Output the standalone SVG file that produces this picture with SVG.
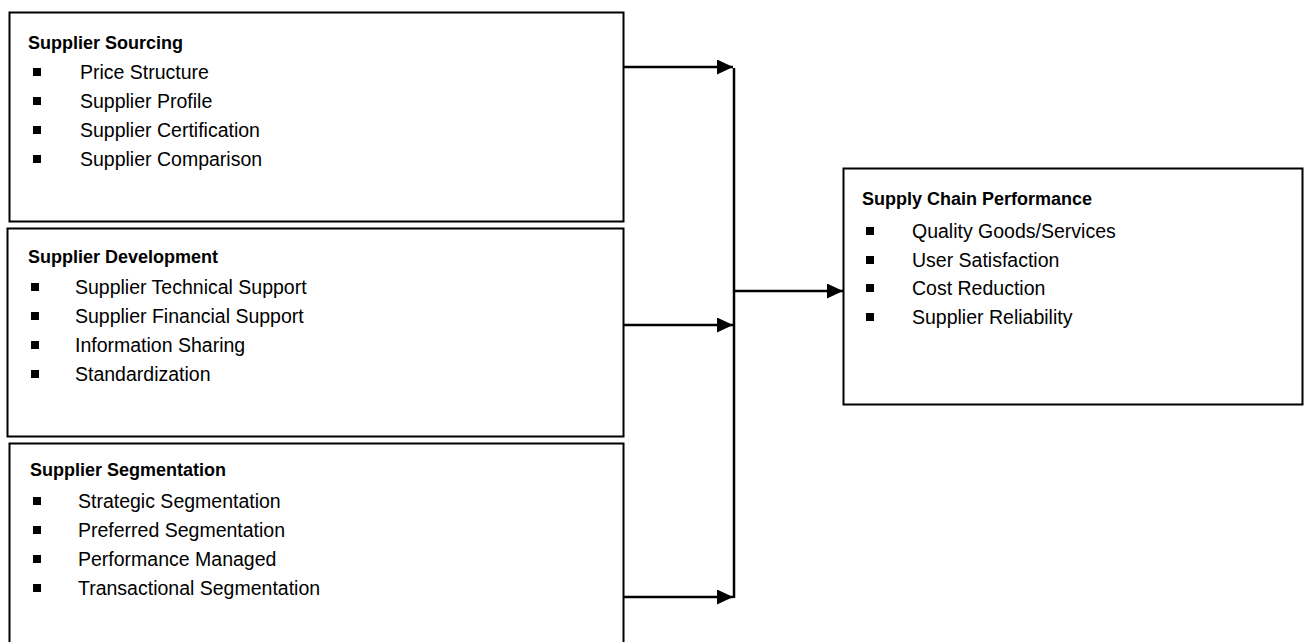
<svg xmlns="http://www.w3.org/2000/svg" width="1306" height="642" viewBox="0 0 1306 642">
<style>
.box{fill:#fff;stroke:#000;stroke-width:2}
.t{font-family:"Liberation Sans",Arial,sans-serif;font-weight:bold;font-size:18px;fill:#000}
.i{font-family:"Liberation Sans",Arial,sans-serif;font-size:19.5px;fill:#000}
.b{fill:#000}
.c{stroke:#000;stroke-width:2.5;fill:none}
</style>
<defs>
<marker id="ah" markerWidth="16" markerHeight="15" refX="16" refY="7.5" orient="auto" markerUnits="userSpaceOnUse">
<path d="M0,0 L16,7.5 L0,15 Z" fill="#000"/>
</marker>
</defs>
<g id="supplier-sourcing">
<rect class="box" x="9.5" y="12.5" width="614" height="209"/>
<text class="t" x="28" y="49">Supplier Sourcing</text>
<rect class="b" x="33" y="68" width="8" height="8"/><text class="i" x="80" y="79">Price Structure</text>
<rect class="b" x="33" y="97" width="8" height="8"/><text class="i" x="80" y="108">Supplier Profile</text>
<rect class="b" x="33" y="126" width="8" height="8"/><text class="i" x="80" y="137">Supplier Certification</text>
<rect class="b" x="33" y="155" width="8" height="8"/><text class="i" x="80" y="166">Supplier Comparison</text>
</g>
<g id="supplier-development">
<rect class="box" x="7.5" y="228.5" width="616" height="208"/>
<text class="t" x="28" y="263">Supplier Development</text>
<rect class="b" x="31" y="283" width="8" height="8"/><text class="i" x="75" y="294">Supplier Technical Support</text>
<rect class="b" x="31" y="312" width="8" height="8"/><text class="i" x="75" y="323">Supplier Financial Support</text>
<rect class="b" x="31" y="341" width="8" height="8"/><text class="i" x="75" y="352">Information Sharing</text>
<rect class="b" x="31" y="370" width="8" height="8"/><text class="i" x="75" y="381">Standardization</text>
</g>
<g id="supplier-segmentation">
<rect class="box" x="9.5" y="443.5" width="614" height="210"/>
<text class="t" x="30" y="476">Supplier Segmentation</text>
<rect class="b" x="33" y="497" width="8" height="8"/><text class="i" x="78" y="508">Strategic Segmentation</text>
<rect class="b" x="33" y="526" width="8" height="8"/><text class="i" x="78" y="537">Preferred Segmentation</text>
<rect class="b" x="33" y="555" width="8" height="8"/><text class="i" x="78" y="566">Performance Managed</text>
<rect class="b" x="33" y="584" width="8" height="8"/><text class="i" x="78" y="595">Transactional Segmentation</text>
</g>
<g id="supply-chain-performance">
<rect class="box" x="843.5" y="168.5" width="459" height="236"/>
<text class="t" x="862" y="205">Supply Chain Performance</text>
<rect class="b" x="866" y="227" width="8" height="8"/><text class="i" x="912" y="238">Quality Goods/Services</text>
<rect class="b" x="866" y="256" width="8" height="8"/><text class="i" x="912" y="267">User Satisfaction</text>
<rect class="b" x="866" y="284" width="8" height="8"/><text class="i" x="912" y="295">Cost Reduction</text>
<rect class="b" x="866" y="313" width="8" height="8"/><text class="i" x="912" y="324">Supplier Reliability</text>
</g>
<g id="connectors">
<line class="c" x1="624" y1="67" x2="733" y2="67" marker-end="url(#ah)"/>
<line class="c" x1="624" y1="325" x2="733" y2="325" marker-end="url(#ah)"/>
<line class="c" x1="624" y1="597" x2="733" y2="597" marker-end="url(#ah)"/>
<line class="c" x1="734" y1="68" x2="734" y2="598"/>
<line class="c" x1="734" y1="291" x2="843" y2="291" marker-end="url(#ah)"/>
</g>
</svg>
